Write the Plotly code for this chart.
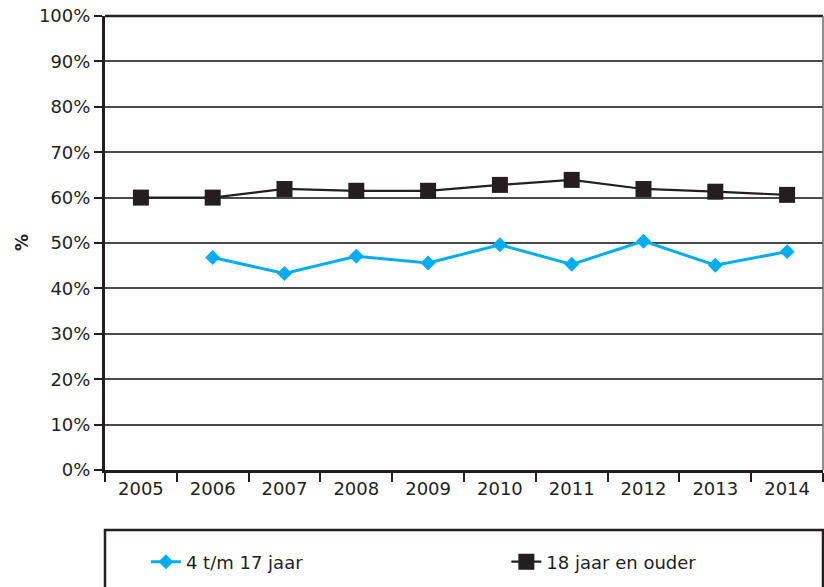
import plotly.graph_objects as go

years = ["2005", "2006", "2007", "2008", "2009", "2010", "2011", "2012", "2013", "2014"]
youth = [None, 46.8, 43.3, 47.1, 45.6, 49.6, 45.3, 50.4, 45.1, 48.1]
adults = [60.0, 60.0, 61.9, 61.5, 61.5, 62.8, 63.9, 61.9, 61.3, 60.6]
y_ticks = [0, 10, 20, 30, 40, 50, 60, 70, 80, 90, 100]

DARK = "#231f20"
BLUE = "#00aeef"
FONT = "DejaVu Sans"

fig = go.Figure()
fig.add_trace(go.Scatter(
    x=years, y=youth, name="4 t/m 17 jaar", mode="lines+markers",
    line=dict(color=BLUE, width=3),
    marker=dict(symbol="diamond", size=11.5, color=BLUE),
    legend="legend",
))
fig.add_trace(go.Scatter(
    x=years, y=adults, name="18 jaar en ouder", mode="lines+markers",
    line=dict(color=DARK, width=2.2),
    marker=dict(symbol="square", size=16, color=DARK),
    legend="legend2",
))

leg_common = dict(
    orientation="h", yanchor="middle", xanchor="left",
    font=dict(family=FONT, size=18, color=DARK),
    bgcolor="rgba(0,0,0,0)", borderwidth=0,
)

# plot area: x 105..823, y 16..470 (page pixels)
fig.update_layout(
    width=824, height=587,
    margin=dict(l=105, r=1, t=16, b=117, autoexpand=False),
    paper_bgcolor="white", plot_bgcolor="white",
    font=dict(family=FONT, size=18, color=DARK),
    showlegend=True,
    legend=dict(x=0.057, y=-0.2026, **leg_common),
    legend2=dict(x=0.559, y=-0.2026, **leg_common),
    xaxis=dict(
        type="category", tickson="boundaries",
        ticks="outside", ticklen=9, tickwidth=2, tickcolor=DARK,
        showline=True, linewidth=3, linecolor=DARK,
        showgrid=False, zeroline=False, automargin=False,
        tickfont=dict(family=FONT, size=18, color=DARK),
        range=[-0.5, 9.5],
    ),
    yaxis=dict(
        range=[0, 100], tickvals=y_ticks, ticktext=[f"{v}%" for v in y_ticks],
        ticks="outside", ticklen=8, tickwidth=2, tickcolor=DARK,
        showline=True, linewidth=3, linecolor=DARK,
        showgrid=True, gridcolor="#4a4a4a", gridwidth=1.5,
        zeroline=False, automargin=False, ticklabeloverflow="allow",
        tickfont=dict(family=FONT, size=18, color=DARK),
    ),
    annotations=[
        dict(text="<b>%</b>", xref="paper", yref="paper", x=0, y=0.5,
             xanchor="center", yanchor="middle", xshift=-83, textangle=-90,
             showarrow=False, font=dict(family=FONT, size=17, color=DARK)),
    ],
    shapes=[
        dict(type="line", xref="paper", yref="paper", x0=0, x1=1, y0=1, y1=1,
             line=dict(color=DARK, width=2.5)),
        dict(type="line", xref="paper", yref="paper", x0=1, x1=1, y0=0, y1=1,
             line=dict(color="#6a6a6a", width=1.5)),
        dict(type="rect", xref="paper", yref="paper", x0=0, x1=1, y0=-0.132, y1=-0.3,
             line=dict(color=DARK, width=2.5), fillcolor="rgba(0,0,0,0)"),
    ],
)

fig.write_html(
    "out.html",
    config={"displayModeBar": False},
    default_width="824px", default_height="587px",
    post_script="document.documentElement.style.overflow='hidden';"
                "document.body.style.margin='0';document.body.style.overflow='hidden';",
)
